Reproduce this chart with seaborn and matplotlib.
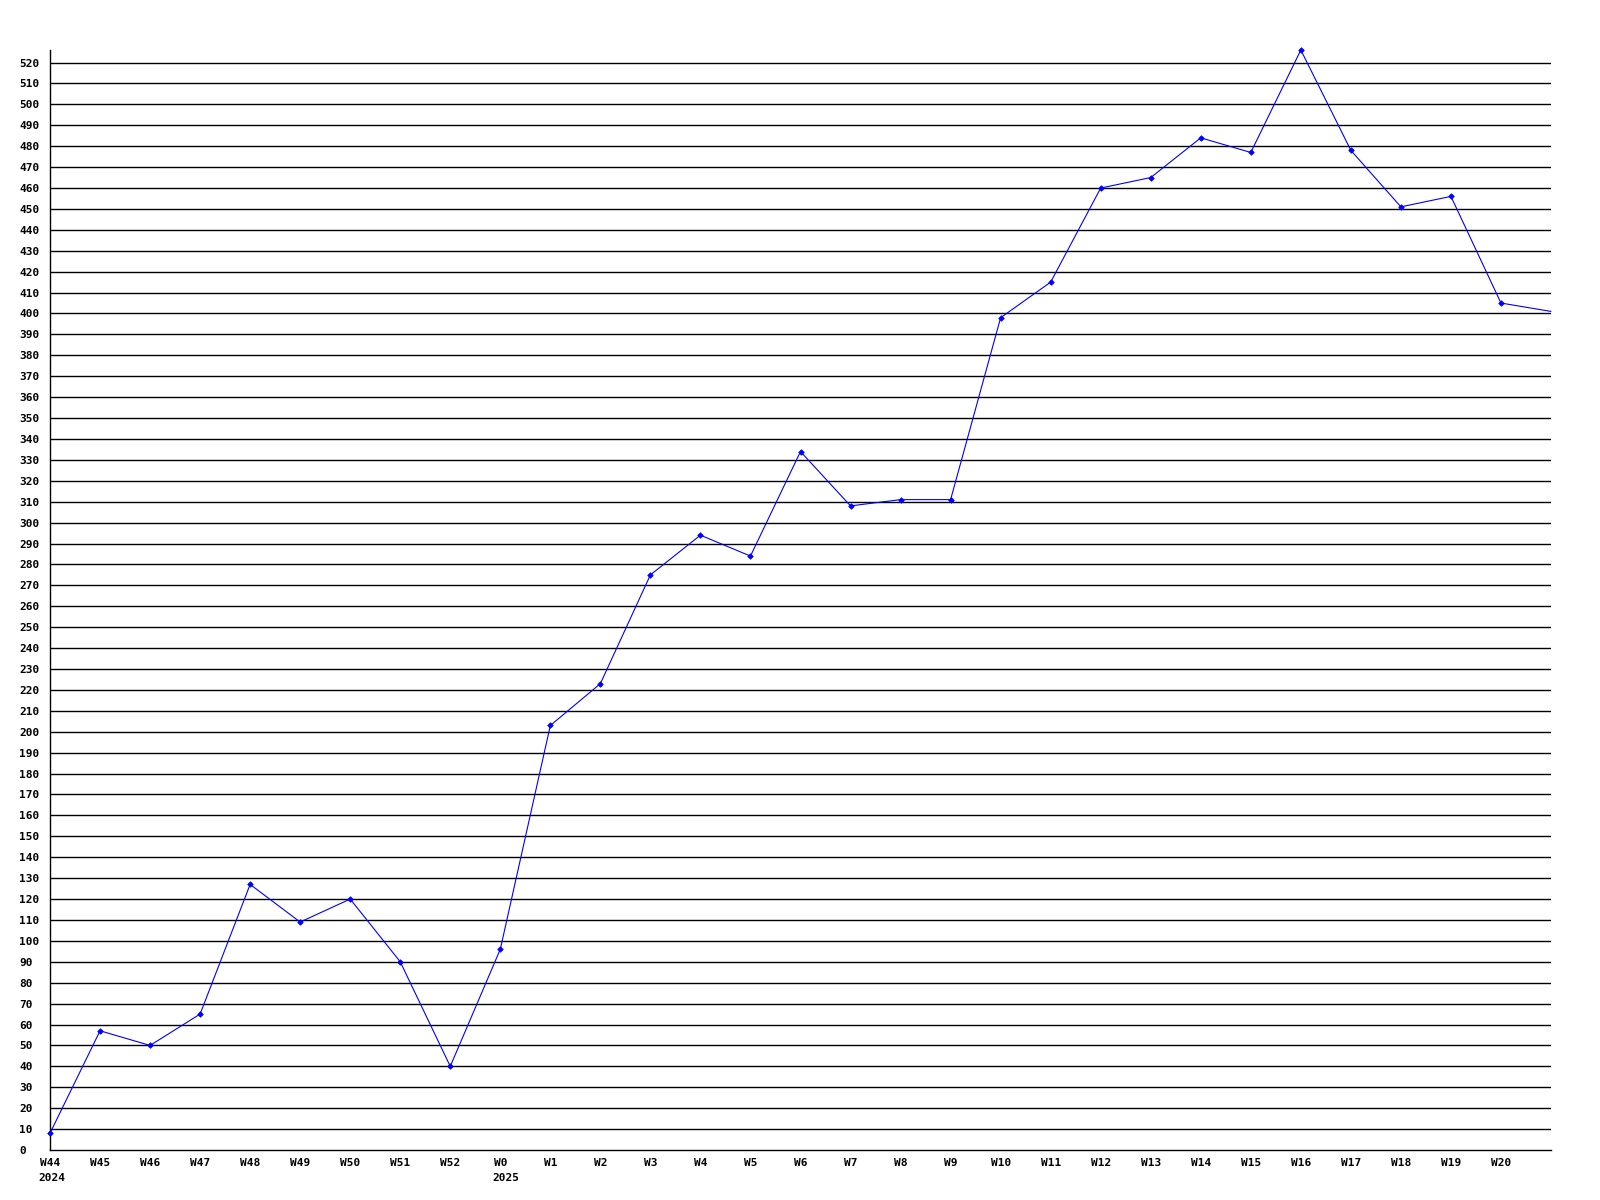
import numpy as np
import pandas as pd
import matplotlib
matplotlib.use('Agg')
import matplotlib.pyplot as plt
import seaborn as sns

weeks = ['W44', 'W45', 'W46', 'W47', 'W48', 'W49', 'W50', 'W51', 'W52', 'W0',
         'W1', 'W2', 'W3', 'W4', 'W5', 'W6', 'W7', 'W8', 'W9', 'W10',
         'W11', 'W12', 'W13', 'W14', 'W15', 'W16', 'W17', 'W18', 'W19', 'W20', 'W21']
values = [8, 57, 50, 65, 127, 109, 120, 90, 40, 96,
          203, 223, 275, 294, 284, 334, 308, 311, 311, 398,
          415, 460, 465, 484, 477, 526, 478, 451, 456, 405, 401]
year_labels = {'W44': '2024', 'W0': '2025'}
y_ticks = list(range(0, 521, 10))

df = pd.DataFrame({'idx': np.arange(len(weeks)), 'week': weeks, 'value': values})

sns.set_style('white')
plt.rcParams['font.family'] = ['DejaVu Sans Mono']
plt.rcParams['font.weight'] = 'bold'

fig = plt.figure(figsize=(16, 12), dpi=100)
ax = fig.add_axes([50 / 1600, 50 / 1200, 1501 / 1600, 1100 / 1200])

for v in y_ticks[1:]:
    ax.axhline(v, color='black', lw=1.0, zorder=1)

sns.lineplot(data=df, x='idx', y='value', ax=ax, color='#0000ff', lw=0.8,
             marker='D', markersize=2.8, markeredgewidth=0.6, markeredgecolor='#0000ff',
             markevery=list(range(len(weeks) - 1)), zorder=3, clip_on=False)

ax.set_xlim(0, len(weeks) - 1)
ax.set_ylim(0, 526)

shown = weeks[:-1]
ax.set_xticks(range(len(shown)))
ax.set_xticklabels(shown, fontsize=8, fontweight='bold', color='black')
ax.set_yticks(y_ticks)
ax.set_yticklabels([str(v) for v in y_ticks], fontsize=8, fontweight='bold', ha='left', color='black')
ax.tick_params(axis='y', length=0, pad=22)
ax.tick_params(axis='x', length=0, pad=5.5)

char_w = 0.62 * 8
for i, w in enumerate(shown):
    if w in year_labels:
        ax.annotate(year_labels[w], xy=(i, 0), xycoords=('data', 'axes fraction'),
                    xytext=(-len(w) * char_w / 2 - 1, -16.5), textcoords='offset points',
                    ha='left', va='top', fontsize=8, fontweight='bold', color='black')

ax.set_xlabel('')
ax.set_ylabel('')
for s in ['top', 'right']:
    ax.spines[s].set_visible(False)
for s in ['left', 'bottom']:
    ax.spines[s].set_color('black')
    ax.spines[s].set_linewidth(1.0)

fig.savefig('out.png', dpi=100, facecolor='white')
